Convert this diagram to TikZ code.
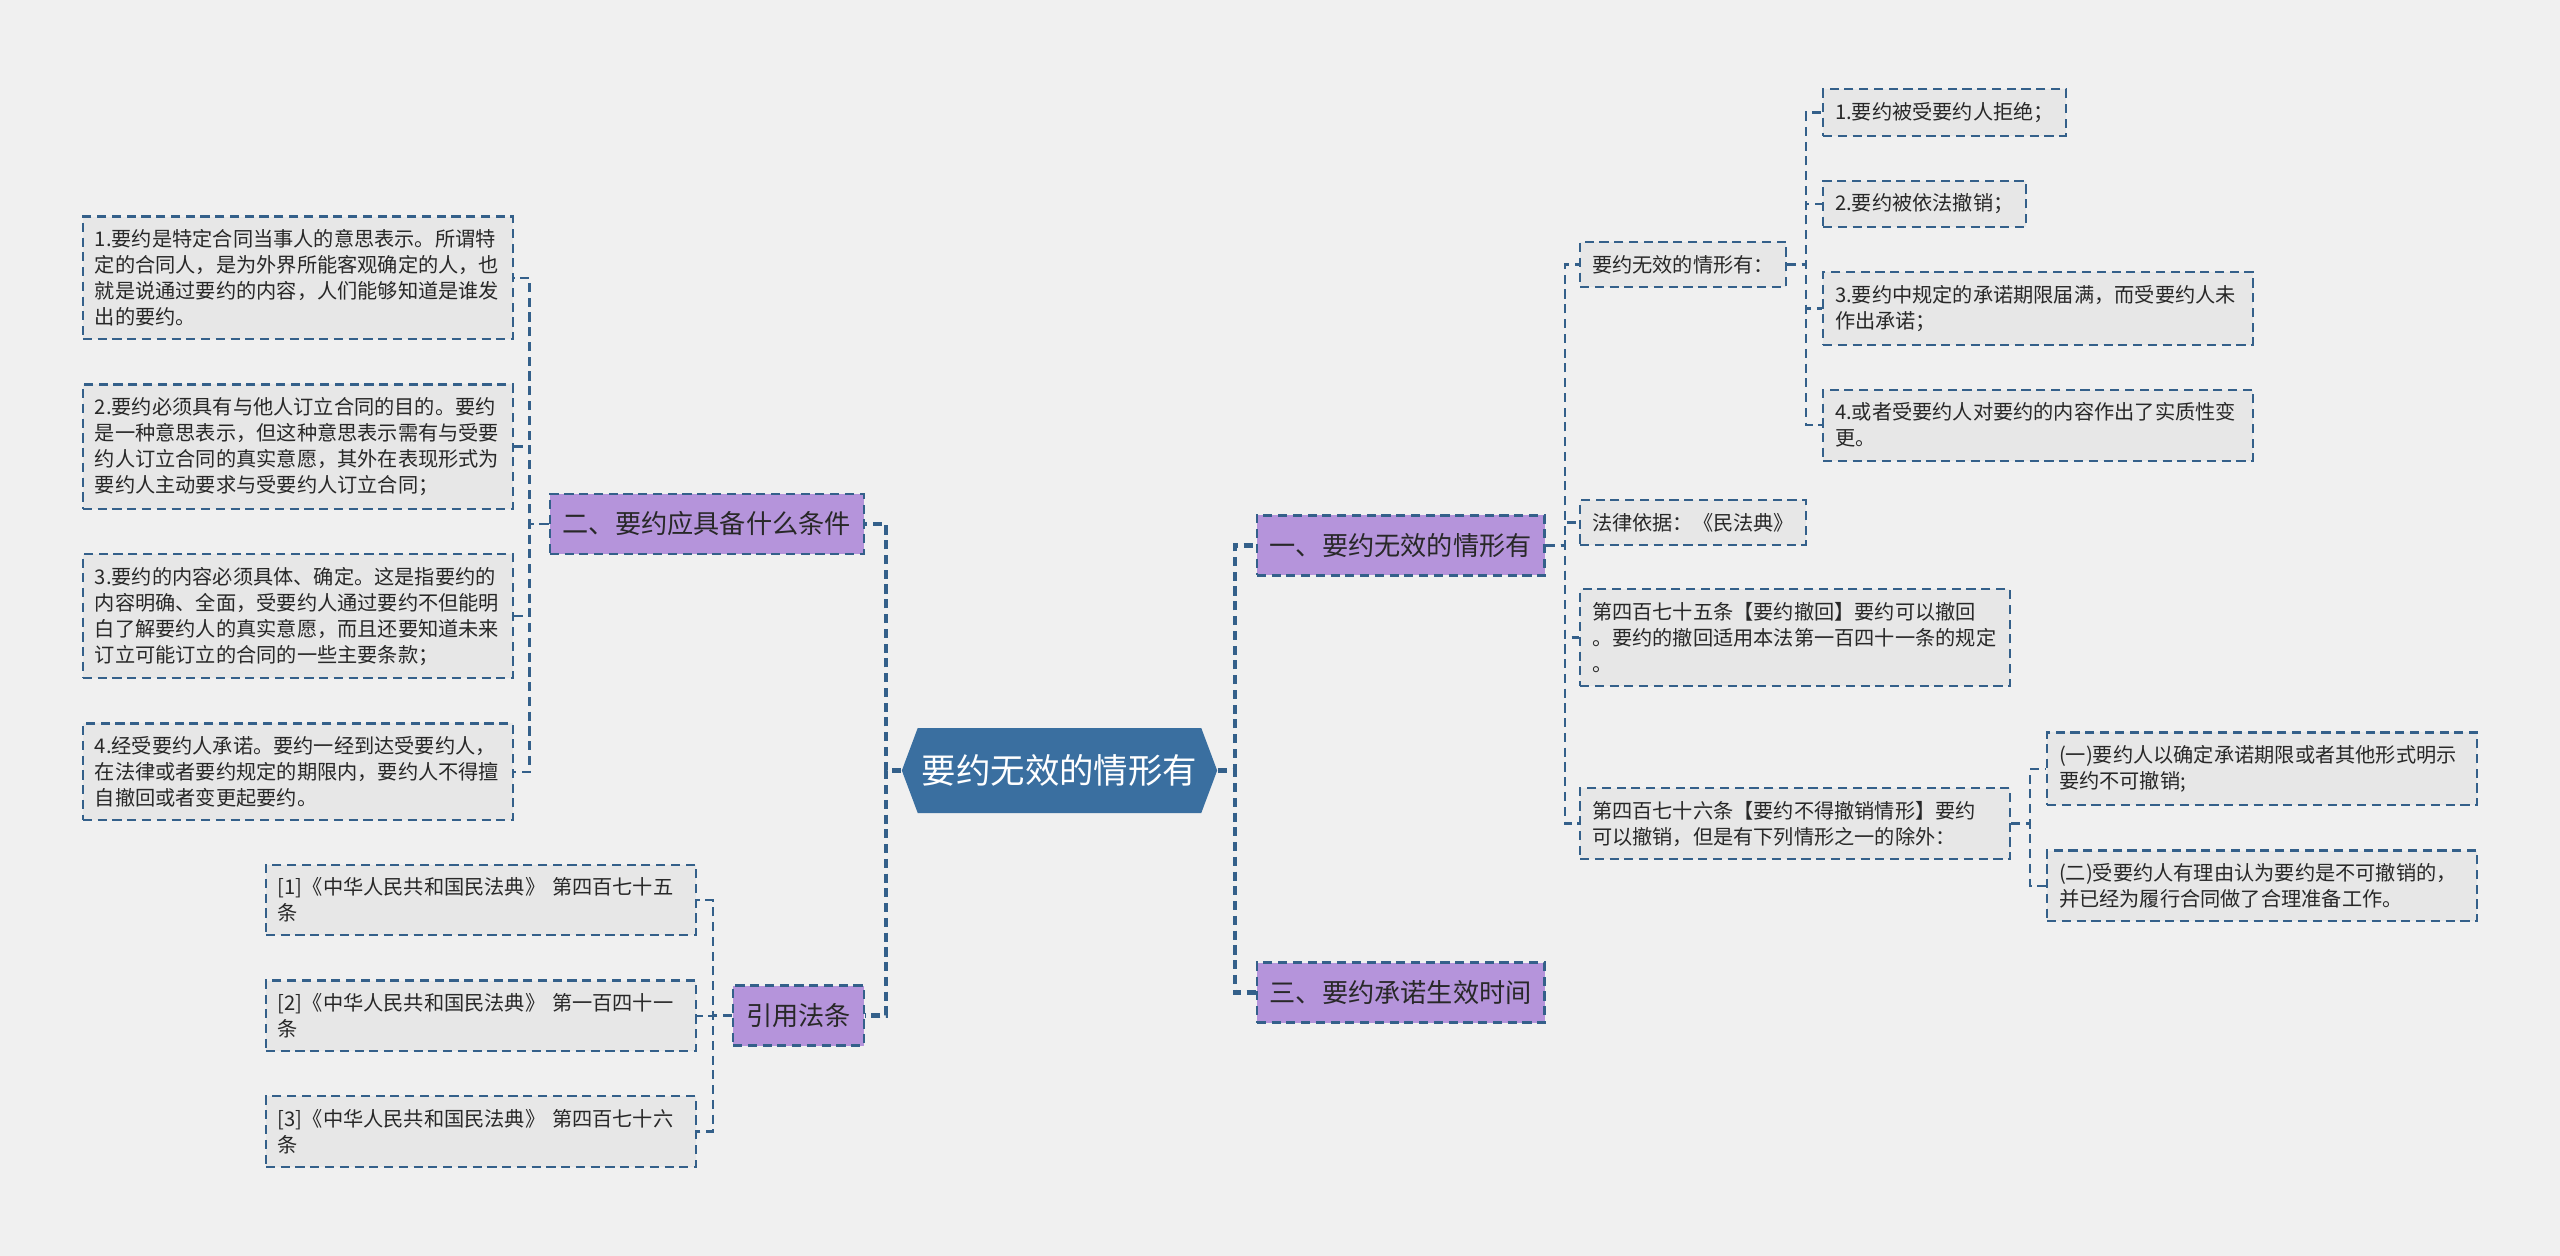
\documentclass[tikz,border=0pt]{standalone}
\usepackage{fontspec}
\setmainfont{Noto Sans CJK SC}
\usetikzlibrary{positioning, shapes.symbols}
\definecolor{CanvasGray}{RGB}{240, 240, 240}
\definecolor{LeafGray}{RGB}{231, 231, 231}
\definecolor{LinkBlue}{RGB}{52, 96, 138}
\definecolor{TopicPurple}{RGB}{181, 148, 219}
\definecolor{HubBlue}{RGB}{58, 111, 160}
\definecolor{InkGray}{RGB}{40, 40, 40}
\tikzset{
  leaf/.style={rectangle, draw=#1, dash pattern=on 2.6pt off 1.6pt, line width=0.6pt,
               fill=LeafGray, inner xsep=0.12cm, inner ysep=0.13cm,
               font=\fontsize{5.75}{7.4}\selectfont, text=InkGray, align=left},
  leaf/.default=LinkBlue,
  wideleaf/.style={leaf=#1, text width=4.06cm},
  wideleaf/.default=LinkBlue,
  topic/.style={rectangle, draw=LinkBlue, dash pattern=on 2.6pt off 1.6pt, line width=0.7pt,
                fill=#1, minimum height=0.6cm, inner xsep=0.13cm,
                font=\fontsize{7.45}{9}\selectfont, text=InkGray},
  hub/.style={signal, signal to=west and east, signal pointer angle=139, fill=#1,
              inner xsep=0.04cm, minimum height=0.85cm,
              font=\fontsize{9.8}{12}\selectfont, text=white},
  link/.style={draw=#1, dash pattern=on 2.6pt off 1.6pt, line width=0.7pt},
  link/.default=LinkBlue,
  hublink/.style={link=#1, line width=1.3pt},
  hublink/.default=LinkBlue,
}

\begin{document}
\begin{tikzpicture}[node distance=0.43cm]
  \fill[CanvasGray] (0,0) rectangle (25.6,-12.56);

  \node[hub=HubBlue] (hub) at (10.595,-7.705) {要约无效的情形有};

  % main topics
  \node[topic=TopicPurple, anchor=east] (cond) at (8.65,-5.24) {二、要约应具备什么条件};
  \node[topic=TopicPurple, anchor=east] (cite) at (8.65,-10.155) {引用法条};
  \node[topic=TopicPurple, anchor=west] (invalid) at (12.555,-5.453) {一、要约无效的情形有};
  \node[topic=TopicPurple, anchor=west] (effect) at (12.555,-9.927) {三、要约承诺生效时间};

  % conditions
  \node[wideleaf, anchor=north east] (c1) at (5.14,-2.155)
       {1.要约是特定合同当事人的意思表示。所谓特\\定的合同人，是为外界所能客观确定的人，也\\就是说通过要约的内容，人们能够知道是谁发\\出的要约。};
  \node[wideleaf, below=of c1] (c2)
       {2.要约必须具有与他人订立合同的目的。要约\\是一种意思表示，但这种意思表示需有与受要\\约人订立合同的真实意愿，其外在表现形式为\\要约人主动要求与受要约人订立合同；};
  \node[wideleaf, below=of c2] (c3)
       {3.要约的内容必须具体、确定。这是指要约的\\内容明确、全面，受要约人通过要约不但能明\\白了解要约人的真实意愿，而且还要知道未来\\订立可能订立的合同的一些主要条款；};
  \node[wideleaf, below=of c3] (c4)
       {4.经受要约人承诺。要约一经到达受要约人，\\在法律或者要约规定的期限内，要约人不得擅\\自撤回或者变更起要约。};

  % cited articles
  \node[wideleaf, anchor=north east] (r1) at (6.97,-8.637)
       {[1]《中华人民共和国民法典》 第四百七十五\\条};
  \node[wideleaf, below=of r1] (r2)
       {[2]《中华人民共和国民法典》 第一百四十一\\条};
  \node[wideleaf, below=of r2] (r3)
       {[3]《中华人民共和国民法典》 第四百七十六\\条};

  % invalid cases
  \node[leaf, anchor=west] (cases) at (15.79,-2.645) {要约无效的情形有：};
  \node[leaf, anchor=west] (basis) at (15.79,-5.225) {法律依据：《民法典》};
  \node[wideleaf, anchor=west] (a475) at (15.79,-6.376)
       {第四百七十五条【要约撤回】要约可以撤回\\。要约的撤回适用本法第一百四十一条的规定\\。};
  \node[wideleaf, anchor=west] (a476) at (15.79,-8.237)
       {第四百七十六条【要约不得撤销情形】要约\\可以撤销，但是有下列情形之一的除外：};

  \node[leaf, anchor=north west] (k1) at (18.22,-0.882) {1.要约被受要约人拒绝；};
  \node[leaf, below=of k1.south west, anchor=north west] (k2) {2.要约被依法撤销；};
  \node[wideleaf, below=of k2.south west, anchor=north west] (k3)
       {3.要约中规定的承诺期限届满，而受要约人未\\作出承诺；};
  \node[wideleaf, below=of k3.south west, anchor=north west] (k4)
       {4.或者受要约人对要约的内容作出了实质性变\\更。};

  \node[wideleaf, anchor=north west] (e1) at (20.46,-7.314)
       {(一)要约人以确定承诺期限或者其他形式明示\\要约不可撤销;};
  \node[wideleaf, below=of e1.south west, anchor=north west] (e2)
       {(二)受要约人有理由认为要约是不可撤销的，\\并已经为履行合同做了合理准备工作。};

  % connectors
  \draw[hublink] (hub.west) -- ++(-0.15,0) |- (cond.east);
  \draw[hublink] (hub.west) -- ++(-0.15,0) |- (cite.east);
  \draw[hublink] (hub.east) -- ++(0.17,0) |- (invalid.west);
  \draw[hublink] (hub.east) -- ++(0.17,0) |- (effect.west);

  \draw[link] (cond.west) -- ++(-0.19,0) |- (c1.east);
  \draw[link] (cond.west) -- ++(-0.19,0) |- (c2.east);
  \draw[link] (cond.west) -- ++(-0.19,0) |- (c3.east);
  \draw[link] (cond.west) -- ++(-0.19,0) |- (c4.east);

  \draw[link] (cite.west) -- ++(-0.19,0) |- (r1.east);
  \draw[link] (cite.west) -- ++(-0.19,0) |- (r2.east);
  \draw[link] (cite.west) -- ++(-0.19,0) |- (r3.east);

  \draw[link] (invalid.east) -- ++(0.19,0) |- (cases.west);
  \draw[link] (invalid.east) -- ++(0.19,0) |- (basis.west);
  \draw[link] (invalid.east) -- ++(0.19,0) |- (a475.west);
  \draw[link] (invalid.east) -- ++(0.19,0) |- (a476.west);

  \draw[link] (cases.east) -- ++(0.19,0) |- (k1.west);
  \draw[link] (cases.east) -- ++(0.19,0) |- (k2.west);
  \draw[link] (cases.east) -- ++(0.19,0) |- (k3.west);
  \draw[link] (cases.east) -- ++(0.19,0) |- (k4.west);

  \draw[link] (a476.east) -- ++(0.19,0) |- (e1.west);
  \draw[link] (a476.east) -- ++(0.19,0) |- (e2.west);
\end{tikzpicture}
\end{document}
